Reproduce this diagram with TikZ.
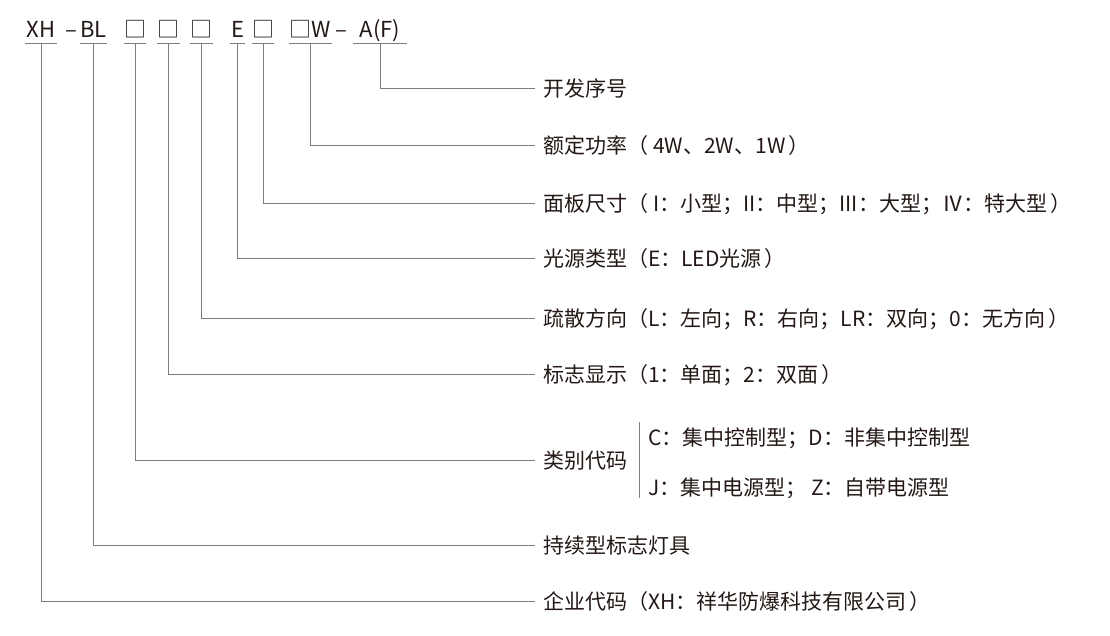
\documentclass[tikz,border=0pt]{standalone}
\usepackage{fontspec}
\setmainfont{Noto Sans CJK SC}
\usepackage{tikz}
\usetikzlibrary{positioning}
\usepackage{xcolor}

\definecolor{leadgray}{RGB}{125,125,125}
\definecolor{inkdark}{RGB}{35,24,21}

\tikzset{
  code/.style={anchor=base, text=inkdark, inner xsep=0pt, inner ysep=6pt, text height=16pt, text depth=0pt, font=\fontsize{22}{22}\selectfont},
  lab/.style={anchor=west, text=inkdark, inner xsep=8pt, inner ysep=0pt, text height=17pt, text depth=1pt, font=\fontsize{21}{21}\selectfont},
  lead/.style={draw=leadgray, line width=1pt},
}

\begin{document}
\begin{tikzpicture}[x=1pt,y=-1pt]

\useasboundingbox (0,0) rectangle (1110,635);

% model code
{
\node[code, minimum width=32pt] (xh) at (41,37) {XH};
\node[code] (da) at (71,37) {--};
\node[code, minimum width=27pt] (bl) at (93.5,37) {BL};
\node[code, minimum width=16pt] (ba) at (135,37) {□};
\node[code, minimum width=17pt] (bb) at (168.5,37) {□};
\node[code, minimum width=17pt] (bc) at (201.5,37) {□};
\node[code, minimum width=15pt] (le) at (237.5,37) {E};
\node[code, minimum width=20pt] (bd) at (263,37) {□};
\node[code, minimum width=43pt] (pw) at (310.5,37) {□W};
\node[code] (db) at (341,37) {--};
\node[code, minimum width=54pt] (af) at (380,37) {A(F)};

\foreach \n in {xh,bl,ba,bb,bc,le,bd,pw,af}
  \draw[lead] (\n.south west)--(\n.south east);
}

% labels
\node[lab] (kf) at (535,88) {开发序号};
\node[lab] (ed) at (535,145) {额定功率（\hspace{5pt}4W、2W、1W\hspace{3pt}）};
\node[lab] (mb) at (535,203) {面板尺寸（\hspace{5pt}I：小型；II：中型；III：大型；Ⅳ：特大型\hspace{3pt}）};
\node[lab] (gy) at (535,258) {光源类型（E：LED光源\hspace{3pt}）};
\node[lab] (ss) at (535,318) {疏散方向（L：左向；R：右向；LR：双向；0：无方向\hspace{3pt}）};
\node[lab] (bz) at (535,374) {标志显示（1：单面；2：双面\hspace{3pt}）};
\node[lab] (lb) at (535,460) {类别代码};
\node[lab] (cx) at (535,545) {持续型标志灯具};
\node[lab] (qy) at (535,601) {企业代码（XH：祥华防爆科技有限公司\hspace{3pt}）};

% class code options
\coordinate (bart) at (639,422);
\coordinate (barb) at (639,498);
\node[lab, inner xsep=9pt] (lbc) at (639,437) {C：集中控制型；D：非集中控制型};
\node[lab, inner xsep=9pt] (lbj) at (639,487) {J：集中电源型； Z：自带电源型};
\draw[lead] (bart)--(barb);

% leaders
\draw[lead] (af.south) |- (kf.west);
\draw[lead] (pw.south) |- (ed.west);
\draw[lead] (bd.south) |- (mb.west);
\draw[lead] (le.south) |- (gy.west);
\draw[lead] (bc.south) |- (ss.west);
\draw[lead] (bb.south) |- (bz.west);
\draw[lead] (ba.south) |- (lb.west);
\draw[lead] (bl.south) |- (cx.west);
\draw[lead] (xh.south) |- (qy.west);

\end{tikzpicture}
\end{document}
